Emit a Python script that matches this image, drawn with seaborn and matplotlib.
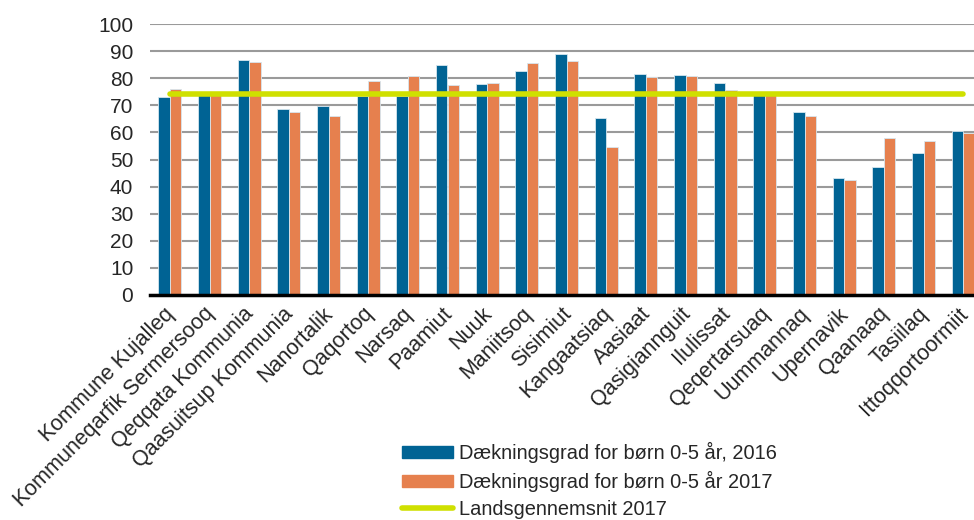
import numpy as np
import pandas as pd
import matplotlib
matplotlib.use("Agg")
import matplotlib.pyplot as plt
from matplotlib.patches import Patch
from matplotlib.lines import Line2D
from matplotlib.transforms import ScaledTranslation
import seaborn as sns

kommuner = ["Kommune Kujalleq", "Kommuneqarfik Sermersooq", "Qeqqata Kommunia",
            "Qaasuitsup Kommunia", "Nanortalik", "Qaqortoq", "Narsaq", "Paamiut",
            "Nuuk", "Maniitsoq", "Sisimiut", "Kangaatsiaq", "Aasiaat",
            "Qasigiannguit", "Ilulissat", "Qeqertarsuaq", "Uummannaq",
            "Upernavik", "Qaanaaq", "Tasiilaq", "Ittoqqortoormiit"]
daekning_2016 = [73.2, 74.0, 86.8, 68.8, 69.7, 73.6, 73.6, 85.0, 78.0, 82.8, 88.9,
                 65.3, 81.5, 81.1, 78.1, 74.3, 67.4, 43.0, 47.1, 52.3, 60.5]
daekning_2017 = [75.9, 74.0, 86.0, 67.5, 66.2, 78.8, 80.8, 77.6, 78.1, 85.5, 86.2,
                 54.6, 80.4, 80.8, 75.6, 73.8, 65.9, 42.3, 57.8, 56.9, 59.8]
landsgennemsnit = 74.2

serie_2016 = "Dækningsgrad for børn 0-5 år, 2016"
serie_2017 = "Dækningsgrad for børn 0-5 år 2017"
serie_avg = "Landsgennemsnit 2017"

blue = "#006394"
orange = "#e6804e"
lime = "#cfe000"

df = pd.DataFrame({
    "kommune": kommuner * 2,
    "pct": daekning_2016 + daekning_2017,
    "serie": [serie_2016] * len(kommuner) + [serie_2017] * len(kommuner),
})

sns.set_style("white")
plt.rcParams["font.family"] = ["Liberation Sans", "DejaVu Sans"]
plt.rcParams["font.size"] = 15

fig = plt.figure(figsize=(9.74, 5.2), dpi=100)
ax = fig.add_axes([150 / 974, 1 - 295 / 520, 833 / 974, 271 / 520])

sns.barplot(data=df, x="kommune", y="pct", hue="serie",
            palette=[blue, orange], saturation=1, width=0.58, ax=ax,
            edgecolor="#d6e6ef", linewidth=0.6, legend=False)

n = len(kommuner)
ax.plot(np.arange(n), [landsgennemsnit] * n, color=lime, lw=4,
        solid_capstyle="round", zorder=5)

ax.set_ylim(0, 100)
ax.set_xlim(-0.5, n - 0.5)
ax.set_yticks(range(0, 101, 10))
ax.yaxis.grid(True, color="#9a9a9a", lw=1.5)
ax.set_axisbelow(True)
ax.set_xlabel("")
ax.set_ylabel("")
for s in ["left", "right", "top"]:
    ax.spines[s].set_visible(False)
ax.spines["bottom"].set_color("black")
ax.spines["bottom"].set_linewidth(2.5)
ax.spines["bottom"].set_zorder(6)
ax.tick_params(axis="y", length=0, pad=12, labelsize=15)
ax.tick_params(axis="x", length=0, pad=6, labelsize=15.5)
shift = ScaledTranslation(-6 / 100, 0, fig.dpi_scale_trans)
for lbl in ax.get_xticklabels():
    lbl.set_rotation(45)
    lbl.set_ha("right")
    lbl.set_rotation_mode("anchor")
    lbl.set_transform(lbl.get_transform() + shift)

handles = [Patch(color=blue), Patch(color=orange),
           Line2D([0], [0], color=lime, lw=4, solid_capstyle="round")]
fig.legend(handles, [serie_2016, serie_2017, serie_avg],
           loc="upper left", bbox_to_anchor=(392 / 974, 1 - 432 / 520),
           frameon=False, fontsize=14.4, handlelength=2.55, handleheight=0.5,
           handletextpad=0.3, labelspacing=0.39, borderpad=0)

fig.savefig("out.png", dpi=100)
